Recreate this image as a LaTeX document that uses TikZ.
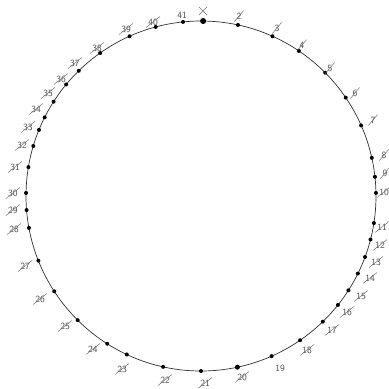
\documentclass[tikz,border=0pt]{standalone}
\begin{document}
\begin{tikzpicture}[x=1pt,y=-1pt,
  dotst/.style={circle,fill=black,inner sep=0pt,minimum size=4pt},
  bigdot/.style={circle,fill=black,inner sep=0pt,minimum size=6pt},
  lab/.style={text=black!70,font=\fontsize{9.5}{9.5}\selectfont\sffamily,inner sep=0.5pt},
  strike/.style={draw=black!55,line width=0.5pt},
  ring/.style={draw=black!80,line width=0.7pt}]
\useasboundingbox[fill=white] (0,0) rectangle (389,389);
\coordinate (c) at (201,196);
\draw[ring] (c) circle (175);
% dots on the circle: index / angle (math, image y up)
\foreach \i/\a in {2/77.8,3/65.9,4/56.0,5/44.8,6/34.2,7/23.8,8/12.6,9/6.3,10/1.0,
  11/-8.9,12/-14.4,13/-20.4,14/-26.3,15/-32.6,16/-38.5,17/-45.9,18/-55.5,19/-66.2,
  21/-90,22/-102.5,23/-115.1,24/-122.4,25/-134.8,26/-147.0,27/-158.3,28/-169.5,
  29/-175.4,30/179.0,31/170.5,32/163.4,33/157.8,34/153.3,35/147.4,36/140.4,
  37/134.3,38/125.2,39/114.1,40/105.0,41/95.9}
  {\path (c) ++(-\a:175) node[dotst] (dot\i) {};}
\path (c) ++(-89.3:175) node[bigdot] (dot1) {};
\path (c) ++(78.0:175) node[dotst,minimum size=5pt] (dot20) {};
% crossed-out labels
\foreach \i/\x/\y in {2/239/16,3/277/28,4/302/45,5/330/68,6/355/93,7/373/120,
  8/384/155,9/385/173,10/384/192,11/382/227,12/380/245,13/376/262,14/370/278,
  15/361/296,16/347/312,17/332/330,18/307/350,20/242/377,21/205/383,22/165/380,
  23/122/369,24/93/349,25/65/326,26/40/299,27/25/266,28/14/229,29/13/210,30/13/193,
  31/15/167,32/22/145,33/28/127,34/36/109,35/48/93,36/61/79,37/75/63,38/97/48,
  39/126/29,40/153/22}
  {\node[lab] (lab\i) at (\x,\y) {\i};
   \draw[strike] ([shift={(-1.5,1.5)}]lab\i.south west) -- ([shift={(1.5,-1.5)}]lab\i.north east);}
% labels left standing
\node[lab] (lab19) at (280,368) {19};
\node[lab] (lab41) at (182,15) {41};
% the first mark, a cross
\coordinate (lab1) at (203,11);
\draw[strike,line width=0.6pt] ([shift={(-4,4)}]lab1) -- ([shift={(4,-4)}]lab1)
  ([shift={(-4,-4)}]lab1) -- ([shift={(4,4)}]lab1);
\end{tikzpicture}
\end{document}
